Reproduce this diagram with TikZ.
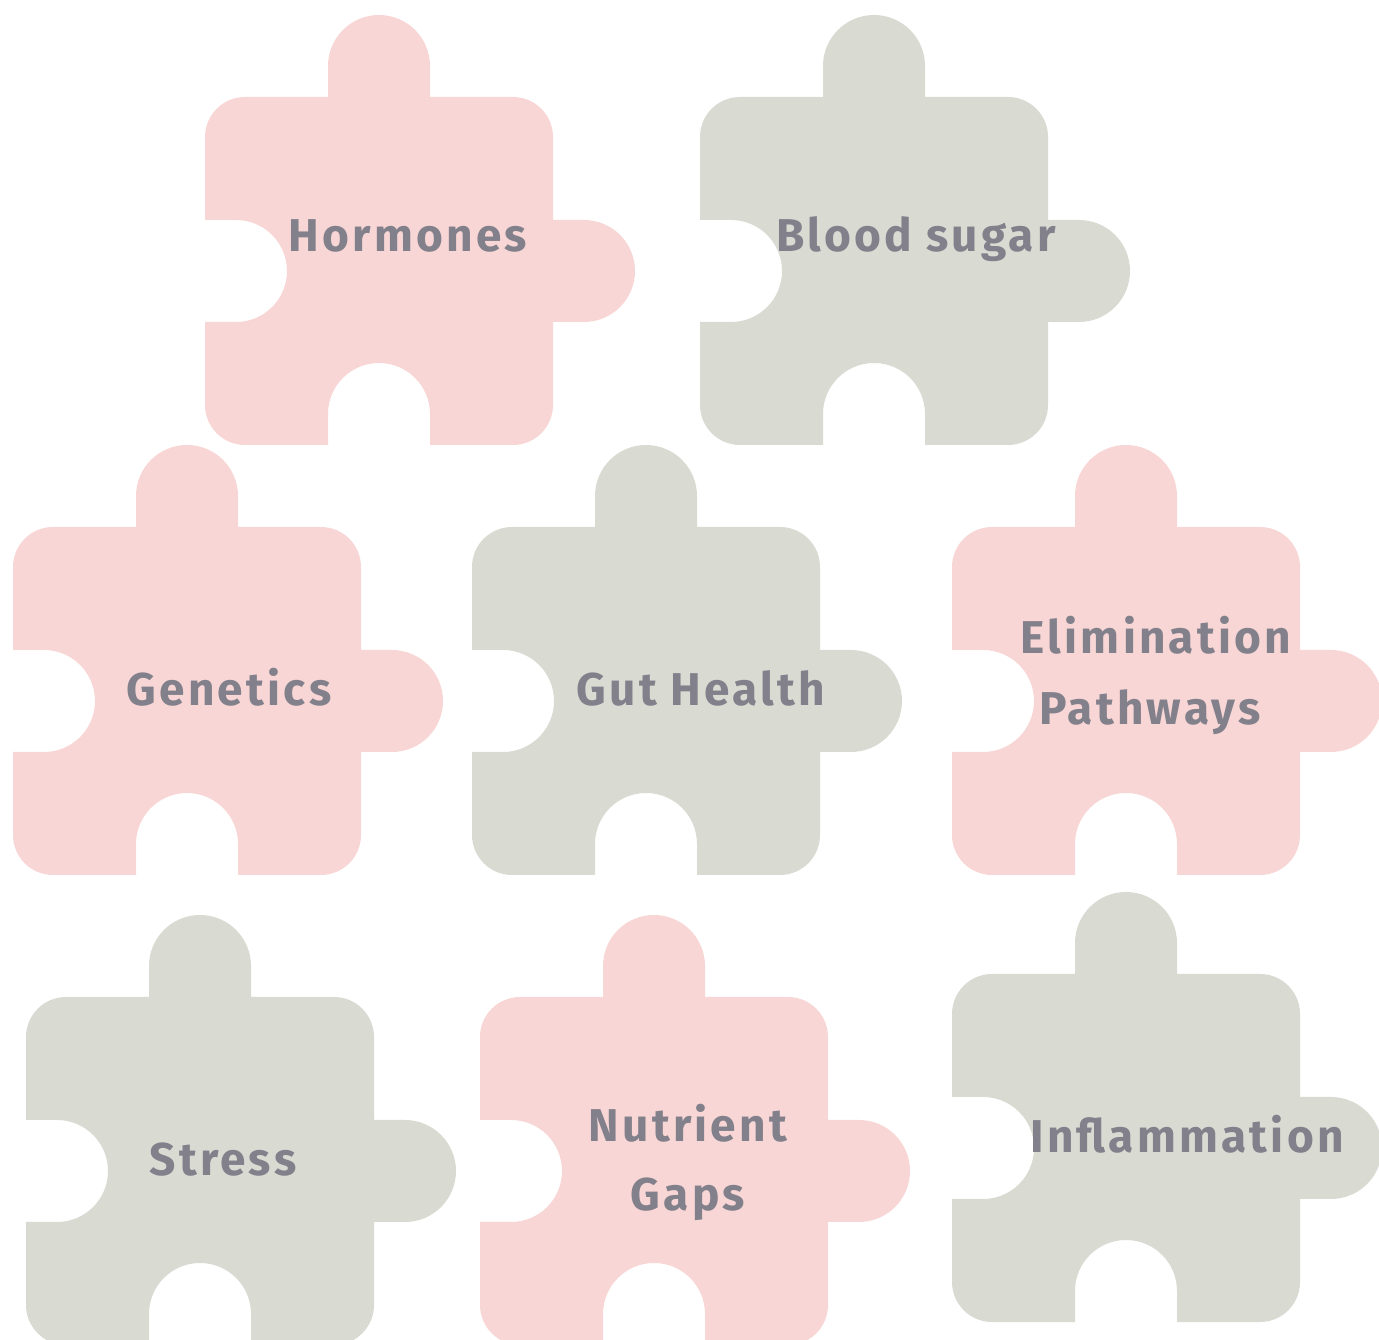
\documentclass[tikz,border=0pt]{standalone}
\usepackage{fontspec}
\setmainfont{Fira Sans}[LetterSpace=7]
\definecolor{pinkp}{HTML}{F8D6D5}
\definecolor{greyp}{HTML}{D9DBD3}
\definecolor{txt}{HTML}{81808B}
\newcommand\puzzlepiece[3]{%
  \fill[#3, shift={(#1,{1339-#2-348})}]
    (0,308) arc (180:90:40) -- (123,348) -- (123,379) arc (180:0:51) -- (225,348)
    -- (308,348) arc (90:0:40) -- (348,225) -- (379,225) arc (90:-90:51) -- (348,123)
    -- (348,40) arc (0:-90:40) -- (225,0) -- (225,31) arc (0:180:51) -- (123,0)
    -- (40,0) arc (270:180:40) -- (0,123) -- (31,123) arc (-90:90:51) -- (0,225) -- cycle;}
\tikzset{lbl/.style={text=txt, font=\fontsize{46}{71}\selectfont\bfseries, anchor=base, align=center, inner sep=0pt}}
\begin{document}
\begin{tikzpicture}[x=1pt,y=1pt]
\useasboundingbox (0,0) rectangle (1379,1339);
\puzzlepiece{205}{97}{pinkp}
\puzzlepiece{700}{97}{greyp}
\puzzlepiece{13}{527}{pinkp}
\puzzlepiece{472}{527}{greyp}
\puzzlepiece{952}{527}{pinkp}
\puzzlepiece{26}{997}{greyp}
\puzzlepiece{480}{997}{pinkp}
\puzzlepiece{952}{974}{greyp}
\node[lbl] (hormones) at (408,{1339-252}) {Hormones};
\node[lbl] (blood) at (916,{1339-252}) {Blood sugar};
\node[lbl] (genetics) at (229,{1339-706}) {Genetics};
\node[lbl] (gut) at (701,{1339-706}) {Gut Health};
\node[lbl] (elim1) at (1156,{1339-654}) {Elimination};
\node[lbl] (elim2) at (1150,{1339-725}) {Pathways};
\node[lbl] (stress) at (223,{1339-1176}) {Stress};
\node[lbl] (nut1) at (688,{1339-1142}) {Nutrient};
\node[lbl] (nut2) at (688,{1339-1211}) {Gaps};
\node[lbl] (infl) at (1187,{1339-1153}) {Inflammation};
\end{tikzpicture}
\end{document}
